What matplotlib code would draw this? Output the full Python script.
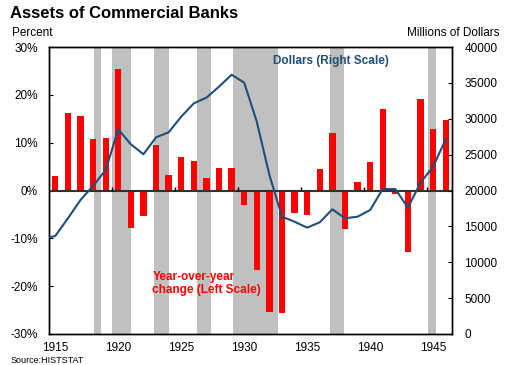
import matplotlib
matplotlib.use("Agg")
import matplotlib.pyplot as plt

plt.rcParams['font.family'] = ['Liberation Sans', 'DejaVu Sans']

# year-over-year change, percent (left scale)
years = list(range(1915, 1947))
pct_change = [3.1, 16.3, 15.6, 10.7, 10.9, 25.3, -7.9, -5.3, 9.5, 3.2,
              6.9, 6.2, 2.7, 4.8, 4.8, -3.1, -16.6, -25.4, -25.6, -4.8,
              -5.1, 4.4, 12.1, -8.1, 1.8, 6.0, 17.0, -0.7, -12.9, 19.1,
              12.8, 14.7]

# total assets, millions of dollars (right scale)
line_years = list(range(1914, 1947))
dollars = [13300, 13660, 16120, 18680, 20630, 22860, 28530, 26440, 25050, 27410,
           28110, 30290, 32150, 32940, 34470, 36140, 35030, 29590, 22160, 16350,
           15650, 14820, 15570, 17380, 16130, 16350, 17280, 20210, 20210, 17600,
           21090, 23320, 27140]

# recessions (year, month) start / end
recessions = [((1918, 8), (1919, 3)), ((1920, 1), (1921, 7)),
              ((1923, 5), (1924, 7)), ((1926, 10), (1927, 11)),
              ((1929, 8), (1933, 3)), ((1937, 5), (1938, 6)),
              ((1945, 2), (1945, 10))]

year_labels = [1915, 1920, 1925, 1930, 1935, 1940, 1945]

red = '#FF0000'
navy = '#1F4E79'
grey = '#C0C0C0'

fig = plt.figure(figsize=(5.1, 3.65), dpi=100)
ax = fig.add_axes([49/510, 31/365, 403/510, 287/365])
ax2 = ax.twinx()

# shaded recessions; bars are centred on the year, so shift by half a year
for (y0, m0), (y1, m1) in recessions:
    start = y0 + (m0 - 1)/12 - 0.5
    end = y1 + (m1 - 1)/12 - 0.5
    ax.axvspan(start, end, color=grey, lw=0, zorder=0)

ax.bar(years, pct_change, width=0.5, color=red, zorder=2)
ax.axhline(0, color='#303030', lw=1.5, zorder=3)
# small marks on the zero line between categories
ax.plot([y - 0.5 for y in year_labels[1:]], [0]*6, ls='none', marker=2,
        color='black', ms=3, mew=1, zorder=3)

ax2.plot(line_years, dollars, color=navy, lw=1.5, zorder=4)

ax.set_xlim(1914.5, 1946.5)
ax.set_ylim(-30, 30)
ax2.set_ylim(0, 40000)

ax.set_xticks(year_labels)
ax.set_xticklabels([str(y) for y in year_labels], fontsize=8.5)
ax.tick_params(axis='x', length=0, pad=6)
ax.set_yticks(range(-30, 31, 10))
ax.set_yticklabels(['%d%%' % v for v in range(-30, 31, 10)], fontsize=8.5)
ax.tick_params(axis='y', direction='in', length=3, pad=8)
ax2.set_yticks(range(0, 40001, 5000))
ax2.set_yticklabels([str(v) for v in range(0, 40001, 5000)], fontsize=8.5)
ax2.tick_params(axis='y', direction='in', length=3, pad=9)

for a in (ax, ax2):
    for s in a.spines.values():
        s.set_linewidth(1.0)

ax2.text(1936.85, 38000, 'Dollars (Right Scale)', color=navy, fontsize=8.5,
         fontweight='bold', ha='center', va='center')
ax.text(1922.7, -19.4, 'Year-over-year\nchange (Left Scale)', color=red,
        fontsize=8.5, fontweight='bold', ha='left', va='center', linespacing=1.1)

fig.text(10/510, 1 - 14/365, 'Assets of Commercial Banks', fontsize=12,
         fontweight='bold', va='center', ha='left')
fig.text(12/510, 1 - 33/365, 'Percent', fontsize=8.5, va='center', ha='left')
fig.text(500/510, 1 - 33/365, 'Millions of Dollars', fontsize=8.5, va='center', ha='right')
fig.text(11/510, 1 - 360.5/365, 'Source:HISTSTAT', fontsize=6.5, va='center', ha='left')

fig.savefig('out.png', dpi=100)
